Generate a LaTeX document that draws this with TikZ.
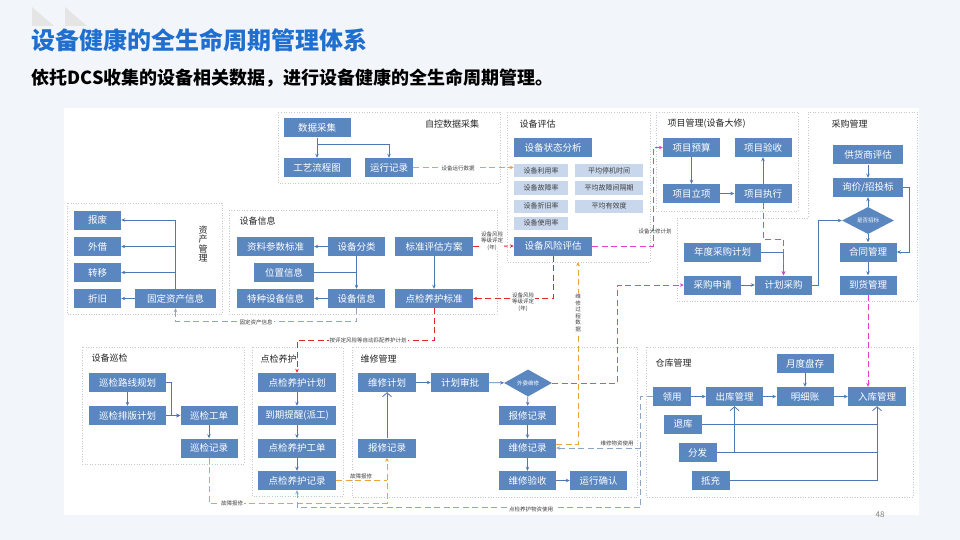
\documentclass[tikz,border=0pt]{standalone}
\usepackage{fontspec}
\setmainfont{Noto Sans CJK SC}
\usetikzlibrary{shapes.geometric,arrows.meta,positioning,calc}
\definecolor{bgcol}{HTML}{F2F5FA}
\definecolor{titleblue}{HTML}{1F6FD1}
\definecolor{boxblue}{HTML}{5B87C0}
\definecolor{lightblue}{HTML}{C8D7EC}
\definecolor{lineblue}{HTML}{4D78B3}
\definecolor{paneline}{HTML}{C4C9D1}
\definecolor{dashgray}{HTML}{8DA5C8}
\definecolor{dashorange}{HTML}{E8A33D}
\definecolor{dashred}{HTML}{E0282D}
\definecolor{dashpink}{HTML}{E83BCB}

\begin{document}
\begin{tikzpicture}[
    x=1pt, y=-1pt,
    box/.style={rectangle, fill=boxblue, text=white, inner sep=0pt, minimum height=19pt, font=\fontsize{9.5}{10}\selectfont},
    lbox/.style={rectangle, fill=lightblue, text=black!75, inner sep=0pt, minimum height=13pt, font=\fontsize{7}{8}\selectfont},
    choice/.style={diamond, fill=boxblue, text=white, inner sep=0pt, font=\fontsize{5.5}{6}\selectfont},
    panel/.style={draw=paneline, dotted, line width=0.6pt, fill=white},
    ptitle/.style={font=\fontsize{9}{10}\selectfont, text=black!85},
    lbl/.style={font=\fontsize{5.5}{6.5}\selectfont, text=black!75, fill=white, inner sep=1pt, align=center},
    lin/.style={draw=lineblue, line width=0.8pt},
    arr/.style={lin, -{Stealth[length=4pt,width=3.5pt]}},
    barb/.style={lin, -{Straight Barb[length=4pt,width=9pt]}},
    dsh/.style={line width=0.9pt, dash pattern=on 6pt off 3.5pt, -{Stealth[length=4pt,width=3.5pt]}},
    odash/.style={dsh, draw=dashorange, -{Stealth[length=4pt,width=3.5pt,fill=dashorange]}},
    rdash/.style={dsh, draw=dashred},
    pdash/.style={dsh, draw=dashpink},
    bdash/.style={dsh, draw=dashgray}
]
    % Background
    \fill[bgcol] (0,0) rectangle (960,540);
    \fill[white] (64,108) rectangle (919,515);
    \fill[gray!20] (32,7) -- (32,26) -- (54,26) -- cycle;
    \fill[gray!20] (65,7) -- (65,26) -- (87,26) -- cycle;
    \node[anchor=west, font=\fontsize{24}{26}\selectfont\bfseries, text=titleblue] (title) at (28,40) {设备健康的全生命周期管理体系};
    \node[anchor=west, font=\fontsize{18}{20}\selectfont\bfseries] (subtitle) at (28,78) {依托DCS收集的设备相关数据，进行设备健康的全生命周期管理。};
    \node[font=\fontsize{8}{9}\selectfont, text=gray] (pageNo) at (880,515) {48};

    % Panels
    \foreach \xa/\ya/\xb/\yb in {278/112/500/183, 507/112/650/262, 656/112/798/211, 67/203/222/314, 229/210/497/314, 82/347/244/464, 252/347/343/496, 352/347/637/497, 646/347/913/497}
        \draw[panel] (\xa,\ya) rectangle (\xb,\yb);
    \draw[panel] (677,218) -- (808,218) -- (808,112) -- (917,112) -- (917,301) -- (677,301) -- cycle;
    \node[ptitle] (tZiKong) at (452,124) {自控数据采集};
    \node[ptitle, anchor=west] (tPingGu) at (516,124) {设备评估};
    \node[ptitle, anchor=west] (tXiangMu) at (664,124) {项目管理(设备大修)};
    \node[ptitle, anchor=west] (tCaiGou) at (828,124) {采购管理};
    \node[ptitle, anchor=west] (tXinXi) at (236,221) {设备信息};
    \node[ptitle, align=center, font=\fontsize{9}{9.5}\selectfont] (tZiChan) at (203,244) {资\\产\\管\\理};
    \node[ptitle, anchor=west] (tXunJian) at (88,358) {设备巡检};
    \node[ptitle, anchor=west] (tDianJian) at (257,359) {点检养护};
    \node[ptitle, anchor=west] (tWeiXiu) at (357,359) {维修管理};
    \node[ptitle, anchor=west] (tCangKu) at (652,363) {仓库管理};

    % Auto data collection
    \node[box, minimum width=67pt] (caiJi) at (317,128) {数据采集};
    \node[box, minimum width=67pt] (gongYi) at (317,167.5) {工艺流程图};
    \node[box, minimum width=48pt] (yunXing) at (389,167.5) {运行记录};

    % Equipment assessment
    \node[box, minimum width=78pt] (zhuangTai) at (553,147.5) {设备状态分析};
    \foreach \nm/\x/\y/\w/\t in {m1/541/170.5/54/设备利用率, m2/609/170.5/68/平均停机时间, m3/541/188/54/设备故障率, m4/609/188/68/平均故障间隔期, m5/541/206/54/设备折旧率, m6/609/206/68/平均有效度, m7/541/223/54/设备使用率}
        \node[lbox, minimum width=\w pt] (\nm) at (\x,\y) {\t};
    \node[box, minimum width=78pt] (fengXian) at (553,246) {设备风险评估};

    % Project management
    \node[box, minimum width=57pt] (yuSuan) at (691.5,147.5) {项目预算};
    \node[box, minimum width=57pt] (yanShou) at (763,147.5) {项目验收};
    \node[box, minimum width=57pt] (liXiang) at (691.5,193.5) {项目立项};
    \node[box, minimum width=57pt] (zhiXing) at (763,193.5) {项目执行};

    % Purchasing
    \node[box, minimum width=70pt] (gongHuo) at (868,155) {供货商评估};
    \node[box, minimum width=70pt] (xunJia) at (868,187.5) {询价/招投标};
    \node[choice, minimum width=52pt, minimum height=17pt] (zhaoBiao) at (868,220.5) {是否招标};
    \node[box, minimum width=57pt] (heTong) at (868,252) {合同管理};
    \node[box, minimum width=57pt] (daoHuo) at (868,285) {到货管理};
    \node[box, minimum width=77pt] (nianDu) at (722.5,252) {年度采购计划};
    \node[box, minimum width=57pt] (shenQing) at (712.5,285) {采购申请};
    \node[box, minimum width=57pt] (jiHuaCG) at (783.5,285) {计划采购};

    % Asset management
    \foreach \nm/\y/\t in {baoFei/220/报废, waiJie/246.5/外借, zhuanYi/272.5/转移, zheJiu/298.5/折旧}
        \node[box, minimum width=47pt] (\nm) at (97.5,\y) {\t};
    \node[box, minimum width=81pt] (guDing) at (175.5,298.5) {固定资产信息};

    % Equipment info
    \node[box, minimum width=77pt] (ziLiao) at (275.5,246.5) {资料参数标准};
    \node[box, minimum width=57pt] (fenLei) at (356.5,246.5) {设备分类};
    \node[box, minimum width=78pt] (biaoZhun) at (434,246.5) {标准评估方案};
    \node[box, minimum width=60pt] (weiZhi) at (284,272.5) {位置信息};
    \node[box, minimum width=77pt] (teZhong) at (275.5,298.5) {特种设备信息};
    \node[box, minimum width=57pt] (sheBei) at (356.5,298.5) {设备信息};
    \node[box, minimum width=78pt] (dianBiao) at (434,298.5) {点检养护标准};

    % Patrol inspection
    \node[box, minimum width=77pt] (luXian) at (127.5,382.5) {巡检路线规划};
    \node[box, minimum width=77pt] (paiBan) at (127.5,415.5) {巡检排版计划};
    \node[box, minimum width=57pt] (xjGongDan) at (209,415.5) {巡检工单};
    \node[box, minimum width=57pt] (xjJiLu) at (209,448) {巡检记录};

    % Spot check and maintenance
    \foreach \nm/\y/\t in {djJiHua/382.5/点检养护计划, tiXing/415.5/到期提醒(派工), djGongDan/448/点检养护工单, djJiLu/480.5/点检养护记录}
        \node[box, minimum width=78pt] (\nm) at (297,\y) {\t};

    % Repair management
    \node[box, minimum width=58pt] (wxJiHua) at (387,382.5) {维修计划};
    \node[box, minimum width=58pt] (shenPi) at (460,382.5) {计划审批};
    \node[choice, minimum width=48pt, minimum height=16pt] (waiWei) at (528,383) {外委维修};
    \node[box, minimum width=57pt] (bxJiLuR) at (527.5,415.5) {报修记录};
    \node[box, minimum width=57pt] (wxJiLu) at (527.5,448) {维修记录};
    \node[box, minimum width=57pt] (wxYanShou) at (527.5,480.5) {维修验收};
    \node[box, minimum width=57pt] (queRen) at (598.5,480.5) {运行确认};
    \node[box, minimum width=58pt] (bxJiLu) at (387,448) {报修记录};

    % Warehouse
    \node[box, minimum width=57pt] (panCun) at (805,363.5) {月度盘存};
    \node[box, minimum width=38pt] (lingYong) at (672,396.5) {领用};
    \node[box, minimum width=57pt] (chuKu) at (734.5,396.5) {出库管理};
    \node[box, minimum width=57pt] (mingXi) at (805,396.5) {明细账};
    \node[box, minimum width=58pt] (ruKu) at (877,396.5) {入库管理};
    \node[box, minimum width=38pt] (tuiKu) at (683,424) {退库};
    \node[box, minimum width=38pt] (fenFa) at (697.5,452.5) {分发};
    \node[box, minimum width=38pt] (diChong) at (710.5,480.5) {抵充};

    % Solid links
    \foreach \a/\b in {caiJi/gongYi, yuSuan/liXiang, liXiang/zhiXing, zhiXing/yanShou, gongHuo/xunJia, zhaoBiao/xunJia, zhaoBiao/heTong, heTong/daoHuo, shenQing/jiHuaCG, guDing/zheJiu, fenLei/ziLiao, fenLei/sheBei, sheBei/teZhong, biaoZhun/dianBiao, luXian/paiBan, paiBan/xjGongDan, xjGongDan/xjJiLu, djJiHua/tiXing, tiXing/djGongDan, djGongDan/djJiLu, wxJiHua/shenPi, shenPi/waiWei, waiWei/bxJiLuR, bxJiLuR/wxJiLu, wxJiLu/wxYanShou, wxYanShou/queRen, lingYong/chuKu, chuKu/mingXi, mingXi/ruKu, panCun/mingXi}
        \draw[arr] (\a) -- (\b);
    \draw[arr] (caiJi.south) -- ++(0,7) -| (yunXing.north);
    \draw[arr] (xunJia.east) -- ++(6,0) |- (heTong.east);
    \draw[arr] (nianDu.east) -| (jiHuaCG.north);
    \draw[arr] (jiHuaCG.east) -- ++(6,0) |- (zhaoBiao.west);
    \foreach \n in {baoFei, waiJie, zhuanYi}
        \draw[arr] (guDing.north) |- (\n.east);
    \draw[lin] (weiZhi.east) -- (weiZhi.east -| fenLei.south);
    \draw[arr] (luXian.east) -- ++(5,0) |- (xjGongDan.west);
    \draw[barb] (bxJiLu) -- (wxJiHua);
    \draw[lin] (tuiKu.east) -- (tuiKu.east -| ruKu.south);
    \draw[lin] (fenFa.east) -- (fenFa.east -| ruKu.south);
    \draw[barb] (diChong.east) -| (ruKu.south);
    \draw[barb] (fenFa.east -| chuKu.south) -- (chuKu.south);

    % Dashed data flows
    \coordinate (pgBottom) at (578,262);
    \coordinate (wzUse) at (641,448);
    \draw[odash] (yunXing.east) -- (yunXing.east -| m1.west);
    \draw[odash] ([yshift=4pt]wxJiLu.east) -| (pgBottom);
    \draw[odash] (xjJiLu.south) -- ++(0,45.5) -| (bxJiLu.south);
    \draw[odash, -] (djJiLu.east) -- (djJiLu.east -| bxJiLu.south);
    \draw[rdash] (biaoZhun.east) -- (fengXian.west);
    \draw[rdash] (fengXian.south) |- (dianBiao.east);
    \draw[rdash] (dianBiao.south) -- ++(0,32) -| (djJiHua.north);
    \draw[pdash] (fengXian.east) -- ++(61,0) |- (yuSuan.west);
    \draw[pdash] (zhiXing.south) -- ++(0,36) -| (jiHuaCG.north);
    \draw[pdash] (waiWei.east) -- ++(65,0) |- (shenQing.west);
    \draw[pdash] (daoHuo.south) -- (daoHuo.south |- ruKu.north);
    \draw[bdash] (sheBei.south) -- ++(0,13.5) -| (guDing.south);
    \draw[bdash] (lingYong.west) -- ++(-12,0) -- ++(0,110.5) -| (djJiLu.south);
    \draw[bdash] (wzUse) -- (wxJiLu.east);

    % Flow labels
    \node[lbl] (lYunXing) at (458,168) {设备运行数据};
    \node[lbl] (lPingDing1) at (492,241) {设备风险\\等级评定\\(年)};
    \node[lbl] (lPingDing2) at (523,302) {设备风险\\等级评定\\(年)};
    \node[lbl] (lPiPei) at (368,340) {按评定风险等自动匹配养护计划};
    \node[lbl, fill=none] (lDaXiu) at (655,231) {设备大修计划};
    \node[lbl] (lGuDing) at (256,322) {固定资产信息};
    \node[lbl, font=\fontsize{5.5}{6.5}\selectfont] (lGuoCheng) at (578,313) {维\\修\\过\\程\\数\\据};
    \node[lbl] (lBaoXiu1) at (232,503) {故障报修};
    \node[lbl] (lBaoXiu2) at (361,476) {故障报修};
    \node[lbl] (lDianJian) at (531,509) {点检养护物资使用};
    \node[lbl, fill=none] (lWeiXiu) at (617,443) {维修物资使用};
\end{tikzpicture}
\end{document}
